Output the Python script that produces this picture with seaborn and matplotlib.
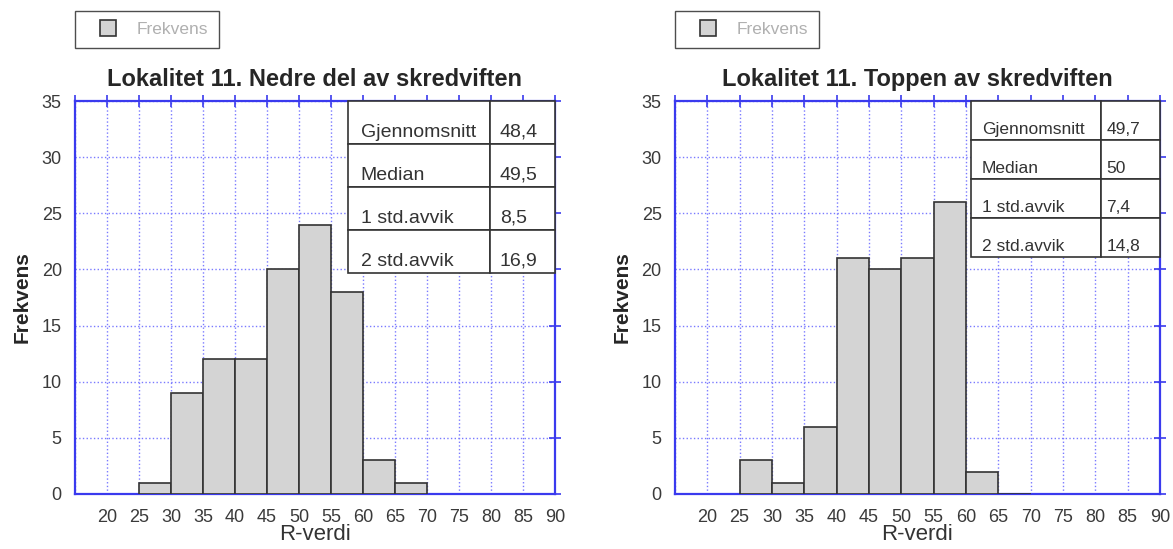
import numpy as np
import pandas as pd
import seaborn as sns
import matplotlib.pyplot as plt
from matplotlib.lines import Line2D

sns.set_theme(style="white")
plt.rcParams["font.family"] = ["Liberation Sans", "DejaVu Sans"]

# histogram bins (left edge of each 5-unit class) and counts
bin_edges = [25, 30, 35, 40, 45, 50, 55, 60, 65, 70]
nedre_counts = [1, 9, 12, 12, 20, 24, 18, 3, 1]
toppen_counts = [3, 1, 6, 21, 20, 21, 26, 2, 0]

titles = ["Lokalitet 11. Nedre del av skredviften",
          "Lokalitet 11. Toppen av skredviften"]
stat_names = ["Gjennomsnitt", "Median", "1 std.avvik", "2 std.avvik"]
nedre_stats = ["48,4", "49,5", "8,5", "16,9"]
toppen_stats = ["49,7", "50", "7,4", "14,8"]

blue = "#3a3aee"
grid_blue = "#7a7aff"
edge = "#333333"
fill = "#d4d4d4"

fig = plt.figure(figsize=(11.73, 5.49), dpi=100)
ax1 = fig.add_axes([0.0639, 0.1002, 0.4092, 0.7158])
ax2 = fig.add_axes([0.5754, 0.1002, 0.4135, 0.7158])

# axes, counts, stats, title, table bbox, table font, cell pads
panels = [
    (ax1, nedre_counts, nedre_stats, titles[0], [0.569, 0.562, 0.431, 0.438], 14, (0.09, 0.15)),
    (ax2, toppen_counts, toppen_stats, titles[1], [0.610, 0.603, 0.390, 0.397], 12.5, (0.085, 0.1)),
]

for ax, counts, stats, title, tbox, tfs, pads in panels:
    df = pd.DataFrame({"R": bin_edges[:-1], "n": counts})
    df = df[df["n"] > 0]
    sns.histplot(data=df, x="R", weights="n", bins=bin_edges, ax=ax,
                 color=fill, edgecolor=edge, linewidth=1.2, alpha=1, zorder=3)

    ax.set_xlim(15, 90)
    ax.set_ylim(0, 35)
    ax.set_xticks(np.arange(15, 91, 5))
    ax.set_xticklabels([""] + [str(v) for v in range(20, 91, 5)])
    ax.set_yticks(np.arange(0, 36, 5))
    ax.grid(True, color=grid_blue, linestyle=":", linewidth=1.0, zorder=0)
    ax.set_axisbelow(True)
    for sp in ax.spines.values():
        sp.set_color(blue)
        sp.set_linewidth(1.6)
    ax.tick_params(axis="both", which="major", direction="inout", length=9,
                   width=1.2, color=blue, top=True, right=True,
                   labelsize=13, labelcolor="#3a3a3a")
    ax.tick_params(axis="x", pad=6)
    ax.tick_params(axis="y", pad=5)

    ax.set_title(title, fontsize=17, fontweight="bold", pad=11)
    ax.set_xlabel("R-verdi", fontsize=16, color="#333333", labelpad=-1)
    ax.set_ylabel("Frekvens", fontsize=15, fontweight="bold", labelpad=7)

    cells = [["\n" + n, "\n" + v] for n, v in zip(stat_names, stats)]
    tbl = ax.table(cellText=cells, cellLoc="left", colWidths=[0.686, 0.314],
                   bbox=tbox, zorder=5)
    tbl.auto_set_font_size(False)
    tbl.set_fontsize(tfs)
    for (r, c), cell in tbl.get_celld().items():
        cell.set_edgecolor(edge)
        cell.set_linewidth(1.2)
        cell.set_facecolor("white")
        cell.get_text().set_color("#333333")
        cell.PAD = pads[c]

    handle = Line2D([], [], linestyle="none", marker="s", markersize=12,
                    markerfacecolor=fill, markeredgecolor=edge,
                    markeredgewidth=1.2, label="Frekvens")
    leg = ax.legend(handles=[handle], loc="lower left",
                    bbox_to_anchor=(0.0, 1.135), frameon=True, fancybox=False,
                    fontsize=12.5, handlelength=2.6, borderpad=0.62,
                    handletextpad=0.35, borderaxespad=0)
    leg.get_frame().set_edgecolor("#222222")
    leg.get_frame().set_linewidth(1.0)
    for t in leg.get_texts():
        t.set_color("#b0b0b0")

fig.savefig("out.png", dpi=100)
